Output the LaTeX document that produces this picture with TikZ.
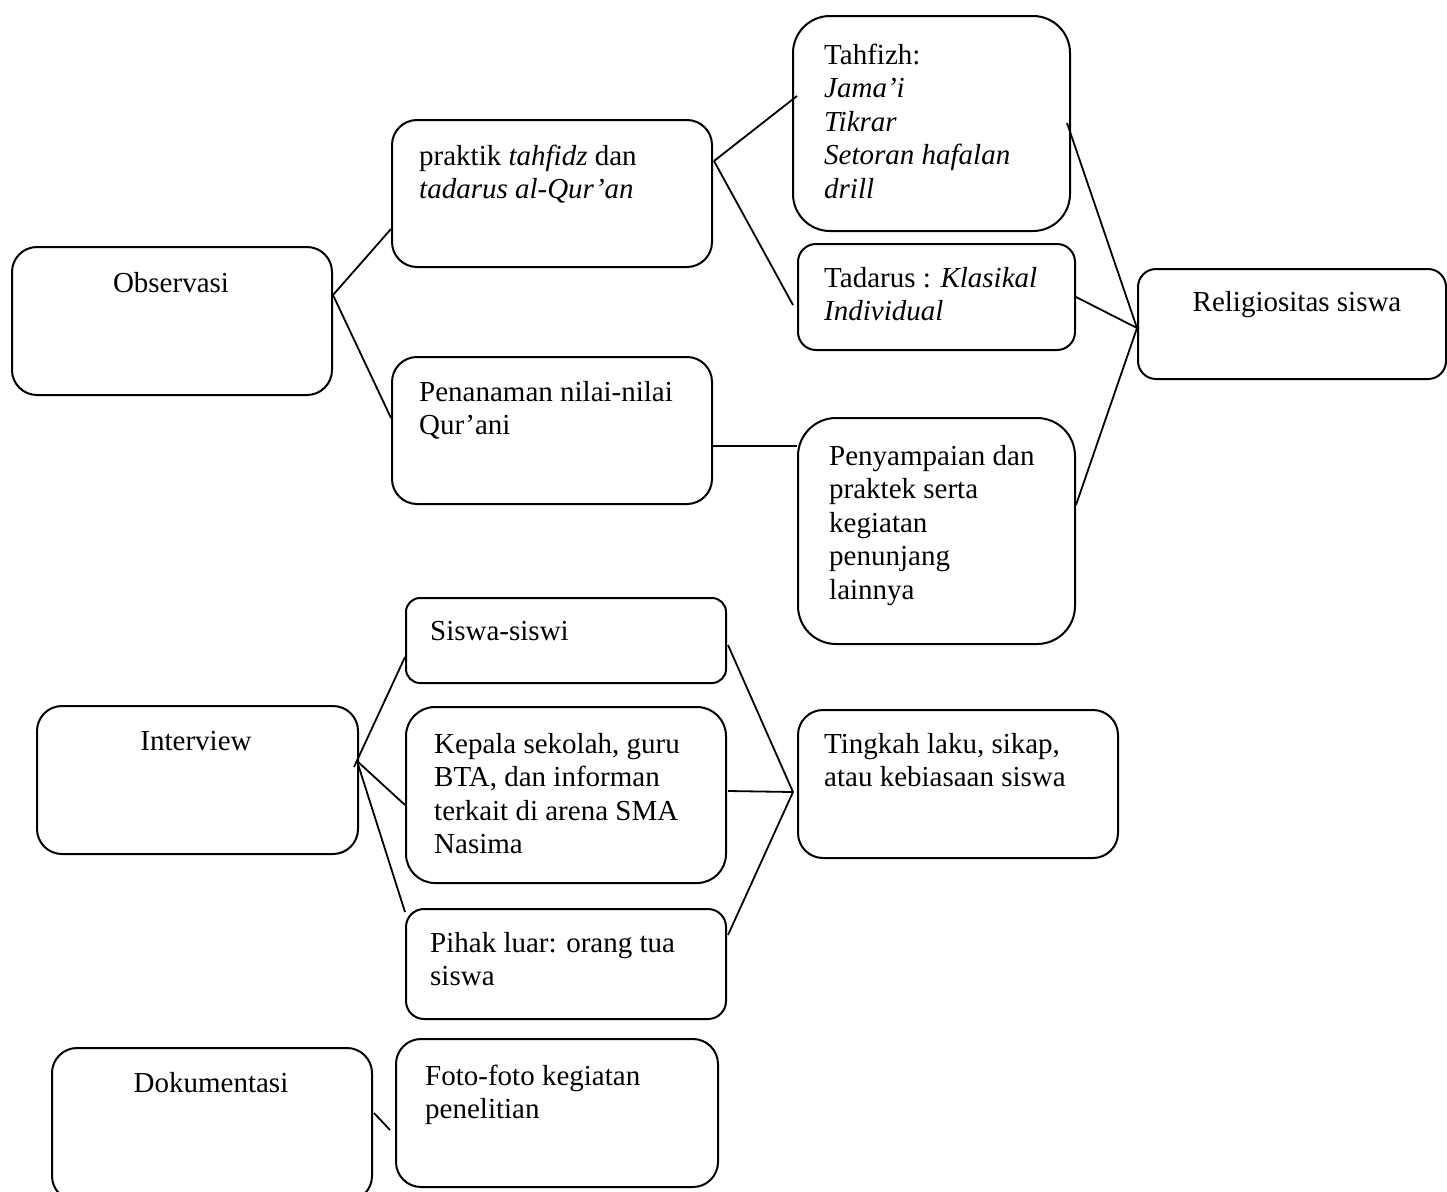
\documentclass[tikz,border=0pt]{standalone}
\usepackage{fontspec}
\setmainfont{Liberation Serif}
\usetikzlibrary{calc}
\tikzset{
  bx/.style={draw=black, line width=2pt, fill=white, inner sep=0pt, anchor=north west},
  ln/.style={draw=black, line width=1.8pt},
  tx/.style={inner sep=0pt, anchor=base west, font=\fontsize{29}{33.6}\selectfont},
  tc/.style={inner sep=0pt, anchor=base, font=\fontsize{29}{33.6}\selectfont},
}
\newcommand\mybox[6]{\node[bx, minimum width={(#4-#2)*1pt}, minimum height={(#5-#3)*1pt}, rounded corners=#6pt] (#1) at (#2,#3) {};}
\newcommand\lines[1]{\parbox[t]{330pt}{\raggedright #1}}
\begin{document}
\begin{tikzpicture}[x=1pt,y=-1pt]
\fill[white] (0,0) rectangle (1447,1191);
\useasboundingbox (0,0) rectangle (1447,1191);
% boxes
\mybox{obs}{11}{246}{331}{394}{25}
\mybox{pra}{391}{119}{711}{266}{25}
\mybox{pen}{391}{356}{711}{503}{25}
\mybox{tah}{792}{15}{1069}{230}{37}
\mybox{tad}{797}{243}{1074}{349}{18}
\mybox{rel}{1137}{268}{1445}{378}{18}
\mybox{pes}{797}{417}{1074}{643}{38}
\mybox{sis}{405}{597}{725}{682}{14}
\mybox{int}{36}{705}{357}{853}{25}
\mybox{kep}{405}{706}{725}{882}{29}
\mybox{tin}{797}{709}{1117}{857}{25}
\mybox{pih}{405}{908}{725}{1018}{18}
\mybox{dok}{51}{1047}{371}{1200}{25}
\mybox{fot}{395}{1038}{717}{1186}{25}
% texts
\node[tc] (t-obs) at (171,292) {Observasi};
\node[tx] (t-pra) at (419,165) {\lines{praktik \textit{tahfidz} dan\\\textit{tadarus al-Qur'an}}};
\node[tx] (t-pen) at (419,401) {\lines{Penanaman nilai-nilai\\Qur'ani}};
\node[tx] (t-tah) at (824,64) {\lines{Tahfizh:\\\textit{Jama'i}\\\textit{Tikrar}\\\textit{Setoran hafalan}\\\textit{drill}}};
\node[tx] (t-tad) at (824,287) {\lines{Tadarus : \textit{Klasikal}\\\textit{Individual}}};
\node[tc] (t-rel) at (1297,311) {Religiositas siswa};
\node[tx] (t-pes) at (829,465) {\lines{Penyampaian dan\\praktek serta\\kegiatan\\penunjang\\lainnya}};
\node[tx] (t-sis) at (430,640) {Siswa-siswi};
\node[tc] (t-int) at (196,750) {Interview};
\node[tx] (t-kep) at (434,753) {\lines{Kepala sekolah, guru\\BTA, dan informan\\terkait di arena SMA\\Nasima}};
\node[tx] (t-tin) at (824,753) {\lines{Tingkah laku, sikap,\\atau kebiasaan siswa}};
\node[tx] (t-pih) at (430,952) {\lines{Pihak luar: orang tua\\siswa}};
\node[tc] (t-dok) at (211,1092) {Dokumentasi};
\node[tx] (t-fot) at (425,1085) {\lines{Foto-foto kegiatan\\penelitian}};
% connectors
\draw[ln] ($(obs.north east)+(0,49)$) -- ($(pra.north west)+(0,110)$);
\draw[ln] ($(obs.north east)+(0,49)$) -- ($(pen.north west)+(0,62)$);
\draw[ln] ($(pra.north east)+(1,42)$) -- ($(tah.north west)+(5,81)$);
\draw[ln] ($(pra.north east)+(1,42)$) -- ($(tad.north west)+(-4,62)$);
\draw[ln] ($(tah.north east)+(-4,108)$) -- ($(rel.north west)+(0,60)$);
\draw[ln] ($(tad.north east)+(0,54)$) -- ($(rel.north west)+(0,60)$);
\draw[ln] ($(pes.north east)+(0,88)$) -- ($(rel.north west)+(0,60)$);
\draw[ln] ($(pen.north east)+(0,90)$) -- ($(pes.north west)+(0,29)$);
\draw[ln] ($(int.north east)+(-5,62)$) -- ($(sis.north west)+(0,60)$);
\draw[ln] ($(int.north east)+(-2,56)$) -- ($(kep.north west)+(0,99)$);
\draw[ln] ($(int.north east)+(-2,56)$) -- ($(pih.north west)+(0,4)$);
\draw[ln] ($(sis.north east)+(1,48)$) -- ($(tin.north west)+(-4,83)$);
\draw[ln] ($(kep.north east)+(1,85)$) -- ($(tin.north west)+(-4,83)$);
\draw[ln] ($(pih.north east)+(1,27)$) -- ($(tin.north west)+(-4,83)$);
\coordinate (dokend) at ($(fot.north west)+(-5,92)$);
\draw[ln] ($(dok.north east)+(1,66)$) -- (dokend);
\end{tikzpicture}
\end{document}
